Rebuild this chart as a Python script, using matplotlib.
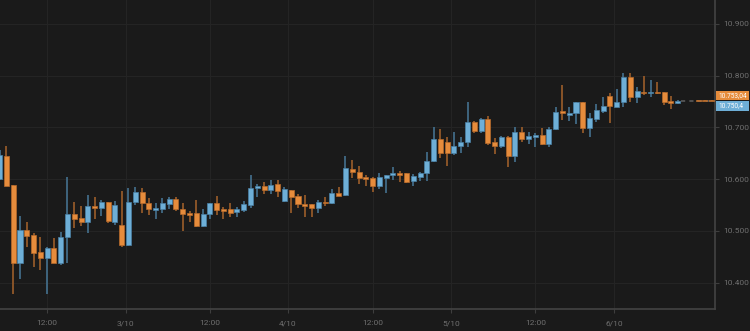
import matplotlib.pyplot as plt
import matplotlib.transforms as mtransforms
from matplotlib.patches import Rectangle
from matplotlib.ticker import FuncFormatter
import numpy as np

# hourly candles (open, high, low, close)
opens = [10600, 10645, 10589, 10438, 10502, 10492, 10459, 10448, 10467, 10438,
         10488, 10533, 10525, 10517, 10548, 10544, 10556, 10517, 10511, 10473,
         10556, 10575, 10554, 10540, 10542, 10552, 10562, 10542, 10535, 10535,
         10510, 10533, 10554, 10542, 10542, 10537, 10540, 10550, 10583, 10587,
         10579, 10591, 10558, 10579, 10567, 10552, 10552, 10544, 10556, 10554,
         10573, 10569, 10620, 10614, 10604, 10602, 10587, 10602, 10608, 10612,
         10612, 10596, 10604, 10612, 10635, 10678, 10672, 10650, 10664, 10672,
         10710, 10693, 10716, 10672, 10664, 10681, 10645, 10691, 10678, 10681,
         10685, 10668, 10697, 10732, 10724, 10728, 10749, 10699, 10716, 10731,
         10760, 10739, 10749, 10797, 10758, 10768, 10766, 10768, 10768, 10751,
         10747, np.nan, np.nan, 10752, 10752, 10752]
highs = [10656, 10664, 10589, 10529, 10517, 10496, 10488, 10469, 10486, 10498,
         10604, 10556, 10548, 10569, 10566, 10560, 10556, 10558, 10577, 10583,
         10585, 10583, 10564, 10554, 10564, 10566, 10566, 10554, 10538, 10560,
         10542, 10554, 10567, 10546, 10554, 10546, 10558, 10608, 10591, 10594,
         10598, 10598, 10585, 10579, 10571, 10569, 10552, 10560, 10566, 10581,
         10585, 10645, 10637, 10625, 10608, 10604, 10612, 10608, 10623, 10616,
         10612, 10610, 10614, 10652, 10701, 10697, 10681, 10691, 10681, 10749,
         10712, 10718, 10722, 10679, 10683, 10683, 10701, 10701, 10691, 10689,
         10699, 10701, 10739, 10782, 10739, 10749, 10749, 10728, 10745, 10759,
         10766, 10774, 10805, 10805, 10778, 10799, 10791, 10787, 10768, 10760,
         10753, np.nan, np.nan, 10752, 10752, 10752]
lows = [10598, 10586, 10378, 10407, 10469, 10430, 10425, 10378, 10437, 10434,
        10437, 10506, 10510, 10496, 10523, 10529, 10515, 10511, 10469, 10471,
        10550, 10535, 10531, 10523, 10535, 10542, 10538, 10500, 10517, 10508,
        10508, 10523, 10531, 10523, 10527, 10527, 10537, 10544, 10566, 10571,
        10571, 10566, 10556, 10535, 10544, 10527, 10527, 10535, 10548, 10552,
        10567, 10567, 10602, 10591, 10587, 10575, 10581, 10573, 10598, 10594,
        10593, 10587, 10596, 10596, 10633, 10641, 10625, 10647, 10650, 10662,
        10689, 10689, 10666, 10649, 10660, 10623, 10633, 10672, 10668, 10662,
        10666, 10662, 10695, 10714, 10712, 10706, 10689, 10681, 10710, 10728,
        10708, 10739, 10739, 10749, 10747, 10762, 10758, 10764, 10743, 10735,
        10745, np.nan, np.nan, 10751.5, 10751.5, 10751.5]
closes = [10647, 10587, 10438, 10502, 10490, 10457, 10448, 10467, 10438, 10488,
          10533, 10523, 10517, 10548, 10544, 10556, 10519, 10550, 10473, 10556,
          10575, 10554, 10542, 10544, 10554, 10562, 10542, 10533, 10531, 10510,
          10533, 10554, 10540, 10538, 10535, 10542, 10552, 10583, 10587, 10579,
          10589, 10577, 10581, 10566, 10552, 10548, 10544, 10556, 10554, 10573,
          10567, 10621, 10614, 10602, 10600, 10587, 10604, 10608, 10612, 10608,
          10594, 10606, 10612, 10635, 10678, 10650, 10650, 10664, 10672, 10710,
          10693, 10716, 10670, 10664, 10681, 10645, 10691, 10678, 10683, 10685,
          10668, 10697, 10730, 10728, 10728, 10749, 10699, 10718, 10733, 10741,
          10741, 10749, 10797, 10758, 10770, 10766, 10768, 10766, 10749, 10747,
          10751, np.nan, np.nan, 10751.5, 10751.5, 10751.5]

tick_pos = [7.0, 18.6, 31.0, 42.5, 55.0, 66.6, 79.0, 90.6]
tick_labels = ['12:00', '3/10', '12:00', '4/10', '12:00', '5/10', '12:00', '6/10']
price_ticks = [10400, 10500, 10600, 10700, 10800, 10900]
ask_price = 10753.04
bid_price = 10750.4

BG = '#1a1a1a'
UP, UP_WICK, UP_EDGE = '#6eafd7', '#3e657e', '#4a82a6'
DOWN, DOWN_WICK, DOWN_EDGE = '#e68c3c', '#8a5428', '#b86b2c'
TXT = '#6f6f6f'

plt.rcParams['font.family'] = ['Roboto', 'DejaVu Sans']


def de_fmt(v, dec=0):
    s = f'{v:,.{dec}f}'
    if dec:
        s = s.rstrip('0').rstrip('.')
    return s.replace(',', '#').replace('.', ',').replace('#', '.')


o = np.array(opens, dtype=float)
h = np.array(highs, dtype=float)
l = np.array(lows, dtype=float)
c = np.array(closes, dtype=float)
x = np.arange(len(o))
ok = ~np.isnan(o)
up = ok & (c >= o)
dn = ok & (c < o)

fig = plt.figure(figsize=(7.5, 3.31), dpi=100, facecolor=BG)
ax = fig.add_axes([0, 22 / 331, 715 / 750, 309 / 331])
ax.set_facecolor(BG)

# wicks
ax.vlines(x[up], l[up], h[up], color=UP_WICK, linewidth=1.4, zorder=2)
ax.vlines(x[dn], l[dn], h[dn], color=DOWN_WICK, linewidth=1.4, zorder=2)

# bodies
body_lo = np.minimum(o, c)
body_h = np.maximum(np.abs(c - o), 1.3)
ax.bar(x[up], body_h[up], bottom=body_lo[up], width=0.74, color=UP,
       edgecolor=UP_EDGE, linewidth=0.5, zorder=3)
ax.bar(x[dn], body_h[dn], bottom=body_lo[dn], width=0.74, color=DOWN,
       edgecolor=DOWN_EDGE, linewidth=0.5, zorder=3)

ax.set_xlim(0.05, 105.5)
ax.set_ylim(10349, 10946)

# last price line and bid/ask tags
mid = (ask_price + bid_price) / 2
ax.hlines(mid, 100.5, 105.5, color='#5a5a5a', linewidth=1.2,
          linestyles=(0, (2.5, 2.5)), zorder=1)

trans = mtransforms.blended_transform_factory(ax.transAxes, ax.transData)
ax.add_patch(Rectangle((1.002, mid + 0.3), 0.046, 18.5, transform=trans,
                       facecolor=DOWN, edgecolor='none', clip_on=False))
ax.add_patch(Rectangle((1.002, mid - 20.0), 0.046, 19.7, transform=trans,
                       facecolor=UP, edgecolor='none', clip_on=False))
ax.text(1.005, mid + 9.5, de_fmt(ask_price, 2), transform=trans, color='white',
        fontsize=4.7, va='center', ha='left', clip_on=False)
ax.text(1.005, mid - 10.0, de_fmt(bid_price, 2), transform=trans, color='white',
        fontsize=4.7, va='center', ha='left', clip_on=False)

# axes styling
ax.yaxis.tick_right()
ax.set_yticks(price_ticks)
ax.yaxis.set_major_formatter(FuncFormatter(lambda v, p: de_fmt(v)))
ax.set_xticks(tick_pos)
ax.set_xticklabels(tick_labels)
ax.tick_params(colors='#3e3e3e', labelcolor=TXT, labelsize=6, length=3,
               width=0.8, pad=3)
ax.tick_params(axis='x', pad=5)
ax.grid(True, color='#242424', linewidth=0.8)
ax.set_axisbelow(True)
for side in ['top', 'left']:
    ax.spines[side].set_visible(False)
for side in ['right', 'bottom']:
    ax.spines[side].set_color('#444444')
    ax.spines[side].set_linewidth(1.2)

fig.savefig('out.png', dpi=100, facecolor=BG)
